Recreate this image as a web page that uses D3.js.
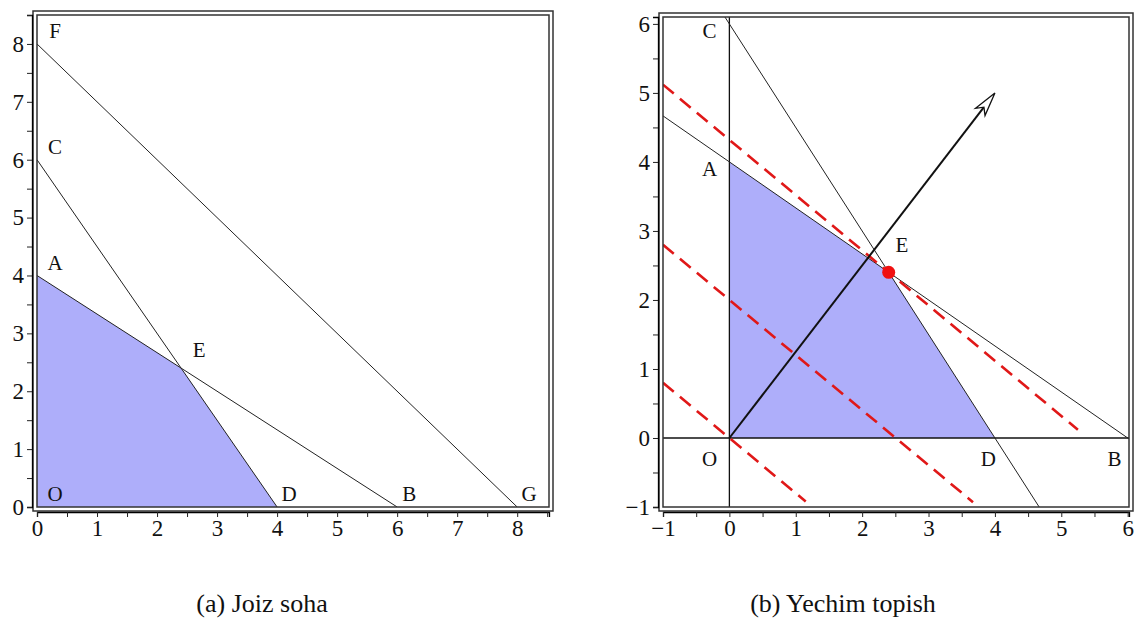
<!DOCTYPE html>
<html>
<head>
<meta charset="utf-8">
<script src="https://cdnjs.cloudflare.com/ajax/libs/d3/7.8.5/d3.min.js"></script>
<style>
  body { margin: 0; background: #fff; }
  svg { display: block; }
  text { font-family: "Liberation Serif", "Times New Roman", serif; fill: #111; }
  .lbl { font-size: 21px; }
  .caption { font-size: 26px; }
</style>
</head>
<body>
<div id="chart"></div>
<script>
// ---- data ----
// panel (a): constraint lines, feasible region, point labels
var aLines = [
  [[0, 8], [8, 0]],   // F - G
  [[0, 6], [4, 0]],   // C - D
  [[0, 4], [6, 0]]    // A - B
];
var aRegion = [[0, 0], [0, 4], [2.4, 2.4], [4, 0]];
var aLabels = [
  ["F", 0.3, 8.1], ["C", 0.3, 6.1], ["A", 0.3, 4.1], ["E", 2.7, 2.6],
  ["O", 0.3, 0.1], ["D", 4.2, 0.1], ["B", 6.2, 0.1], ["G", 8.2, 0.1]
];
var aTicks = [0, 1, 2, 3, 4, 5, 6, 7, 8];

// panel (b)
var bLines = [
  [[-0.067, 6.1], [4.667, -1]],   // 3x + 2y = 12
  [[-1, 4.667], [6.05, -0.033]]   // 2x + 3y = 12
];
var bAxes = [
  [[0, 6.1], [0, -1]],
  [[-1, 0], [6.05, 0]]
];
var bRegion = [[0, 0], [0, 4], [2.4, 2.4], [4, 0]];
// level lines 4x + 5y = c
var bDashed = [
  [[-1, 5.12], [5.25, 0.12]],
  [[-1, 2.8], [3.67, -0.93]],
  [[-1, 0.8], [1.15, -0.92]]
];
var bArrow = [[0, 0], [4, 5]];
var bPoint = [2.4, 2.4];
var bLabels = [
  ["C", -0.3, 5.8], ["A", -0.3, 3.8], ["E", 2.6, 2.7],
  ["O", -0.3, -0.4], ["D", 3.9, -0.4], ["B", 5.8, -0.4]
];
var bTicks = [-1, 0, 1, 2, 3, 4, 5, 6];

var captions = ["(a) Joiz soha", "(b) Yechim topish"];

// ---- drawing ----
var svg = d3.select("#chart").append("svg")
  .attr("width", 1137)
  .attr("height", 626);

function halfSteps(lo, hi) {
  var out = [];
  for (var v = lo; v <= hi + 1e-9; v += 0.5) out.push(+v.toFixed(2));
  return out;
}

function panel(cfg) {
  var x = d3.scaleLinear().domain(cfg.xDom).range([cfg.left, cfg.right]);
  var y = d3.scaleLinear().domain(cfg.yDom).range([cfg.bottom, cfg.top]);
  var g = svg.append("g");
  var line = d3.line().x(function (d) { return x(d[0]); }).y(function (d) { return y(d[1]); });

  g.append("defs").append("clipPath").attr("id", cfg.id)
    .append("rect")
    .attr("x", cfg.left).attr("y", cfg.top)
    .attr("width", cfg.right - cfg.left).attr("height", cfg.bottom - cfg.top);

  var plot = g.append("g").attr("clip-path", "url(#" + cfg.id + ")");

  plot.append("path")
    .attr("d", line(cfg.region) + "Z")
    .attr("fill", "#aeaefa")
    .attr("stroke", "none");

  plot.selectAll(".ax").data(cfg.axes || []).enter().append("path")
    .attr("d", line).attr("fill", "none").attr("stroke", "#111").attr("stroke-width", 1.3);

  plot.selectAll(".cl").data(cfg.lines).enter().append("path")
    .attr("d", line).attr("fill", "none").attr("stroke", "#222").attr("stroke-width", 1);

  plot.selectAll(".dl").data(cfg.dashed || []).enter().append("path")
    .attr("d", line).attr("fill", "none").attr("stroke", "#e01818")
    .attr("stroke-width", 2.6).attr("stroke-dasharray", "14,8");

  if (cfg.arrow) {
    var a0 = cfg.arrow[0], a1 = cfg.arrow[1];
    var x0 = x(a0[0]), y0 = y(a0[1]), x1 = x(a1[0]), y1 = y(a1[1]);
    var ang = Math.atan2(y1 - y0, x1 - x0);
    var L = 24, W = 6, N = 18;
    function pt(along, side) {
      return [x1 + along * Math.cos(ang) - side * Math.sin(ang),
              y1 + along * Math.sin(ang) + side * Math.cos(ang)];
    }
    var bx = pt(-N, 0);
    plot.append("line")
      .attr("x1", x0).attr("y1", y0).attr("x2", bx[0]).attr("y2", bx[1])
      .attr("stroke", "#111").attr("stroke-width", 2);
    plot.append("path")
      .attr("d", "M" + [pt(0, 0), pt(-L, W), pt(-N, 0), pt(-L, -W)].join("L") + "Z")
      .attr("fill", "#fff").attr("stroke", "#111").attr("stroke-width", 1.3);
  }

  if (cfg.point) {
    plot.append("circle")
      .attr("cx", x(cfg.point[0])).attr("cy", y(cfg.point[1])).attr("r", 6.5)
      .attr("fill", "#f01010");
  }

  g.selectAll(".lbl").data(cfg.labels).enter().append("text")
    .attr("class", "lbl")
    .attr("x", function (d) { return x(d[1]); })
    .attr("y", function (d) { return y(d[2]); })
    .attr("text-anchor", "middle")
    .text(function (d) { return d[0]; });

  // double frame
  g.append("rect")
    .attr("x", cfg.left).attr("y", cfg.top)
    .attr("width", cfg.right - cfg.left).attr("height", cfg.bottom - cfg.top)
    .attr("fill", "none").attr("stroke", "#333").attr("stroke-width", 1.5);
  g.append("rect")
    .attr("x", cfg.left - 4).attr("y", cfg.top - 4)
    .attr("width", cfg.right - cfg.left + 8).attr("height", cfg.bottom - cfg.top + 8)
    .attr("fill", "none").attr("stroke", "#333").attr("stroke-width", 1.5);

  var fmt = function (d) {
    return cfg.ticks.indexOf(d) >= 0 ? String(d).replace("-", "\u2212") : "";
  };

  var xAxis = d3.axisBottom(x)
    .tickValues(halfSteps(cfg.xDom[0], cfg.xDom[1]))
    .tickFormat(fmt).tickSize(5).tickPadding(3);
  g.append("g")
    .attr("transform", "translate(0," + (cfg.bottom + 5) + ")")
    .call(xAxis)
    .call(function (s) { s.select(".domain").attr("stroke-width", 1.3); });

  var yAxis = d3.axisLeft(y)
    .tickValues(halfSteps(cfg.yDom[0], cfg.yDom[1]))
    .tickFormat(fmt).tickSize(5).tickPadding(3);
  g.append("g")
    .attr("transform", "translate(" + (cfg.left - 5) + ",0)")
    .call(yAxis)
    .call(function (s) { s.select(".domain").attr("stroke-width", 1.3); });

  g.selectAll(".tick line").attr("stroke", "#222");
  g.selectAll(".tick text")
    .attr("fill", "#111")
    .attr("font-family", "'Liberation Serif', 'Times New Roman', serif")
    .attr("font-size", 23);

  svg.append("text")
    .attr("class", "caption")
    .attr("x", cfg.capX).attr("y", 612)
    .attr("text-anchor", "middle")
    .text(cfg.caption);
}

panel({
  id: "clipA", left: 37, right: 549, top: 15, bottom: 507,
  xDom: [0, 8.53], yDom: [0, 8.5],
  lines: aLines, region: aRegion, labels: aLabels, ticks: aTicks,
  capX: 262, caption: captions[0]
});

panel({
  id: "clipB", left: 663, right: 1129, top: 17, bottom: 507,
  xDom: [-1, 6.02], yDom: [-1, 6.1],
  lines: bLines, axes: bAxes, region: bRegion, dashed: bDashed,
  arrow: bArrow, point: bPoint, labels: bLabels, ticks: bTicks,
  capX: 843, caption: captions[1]
});
</script>
</body>
</html>
